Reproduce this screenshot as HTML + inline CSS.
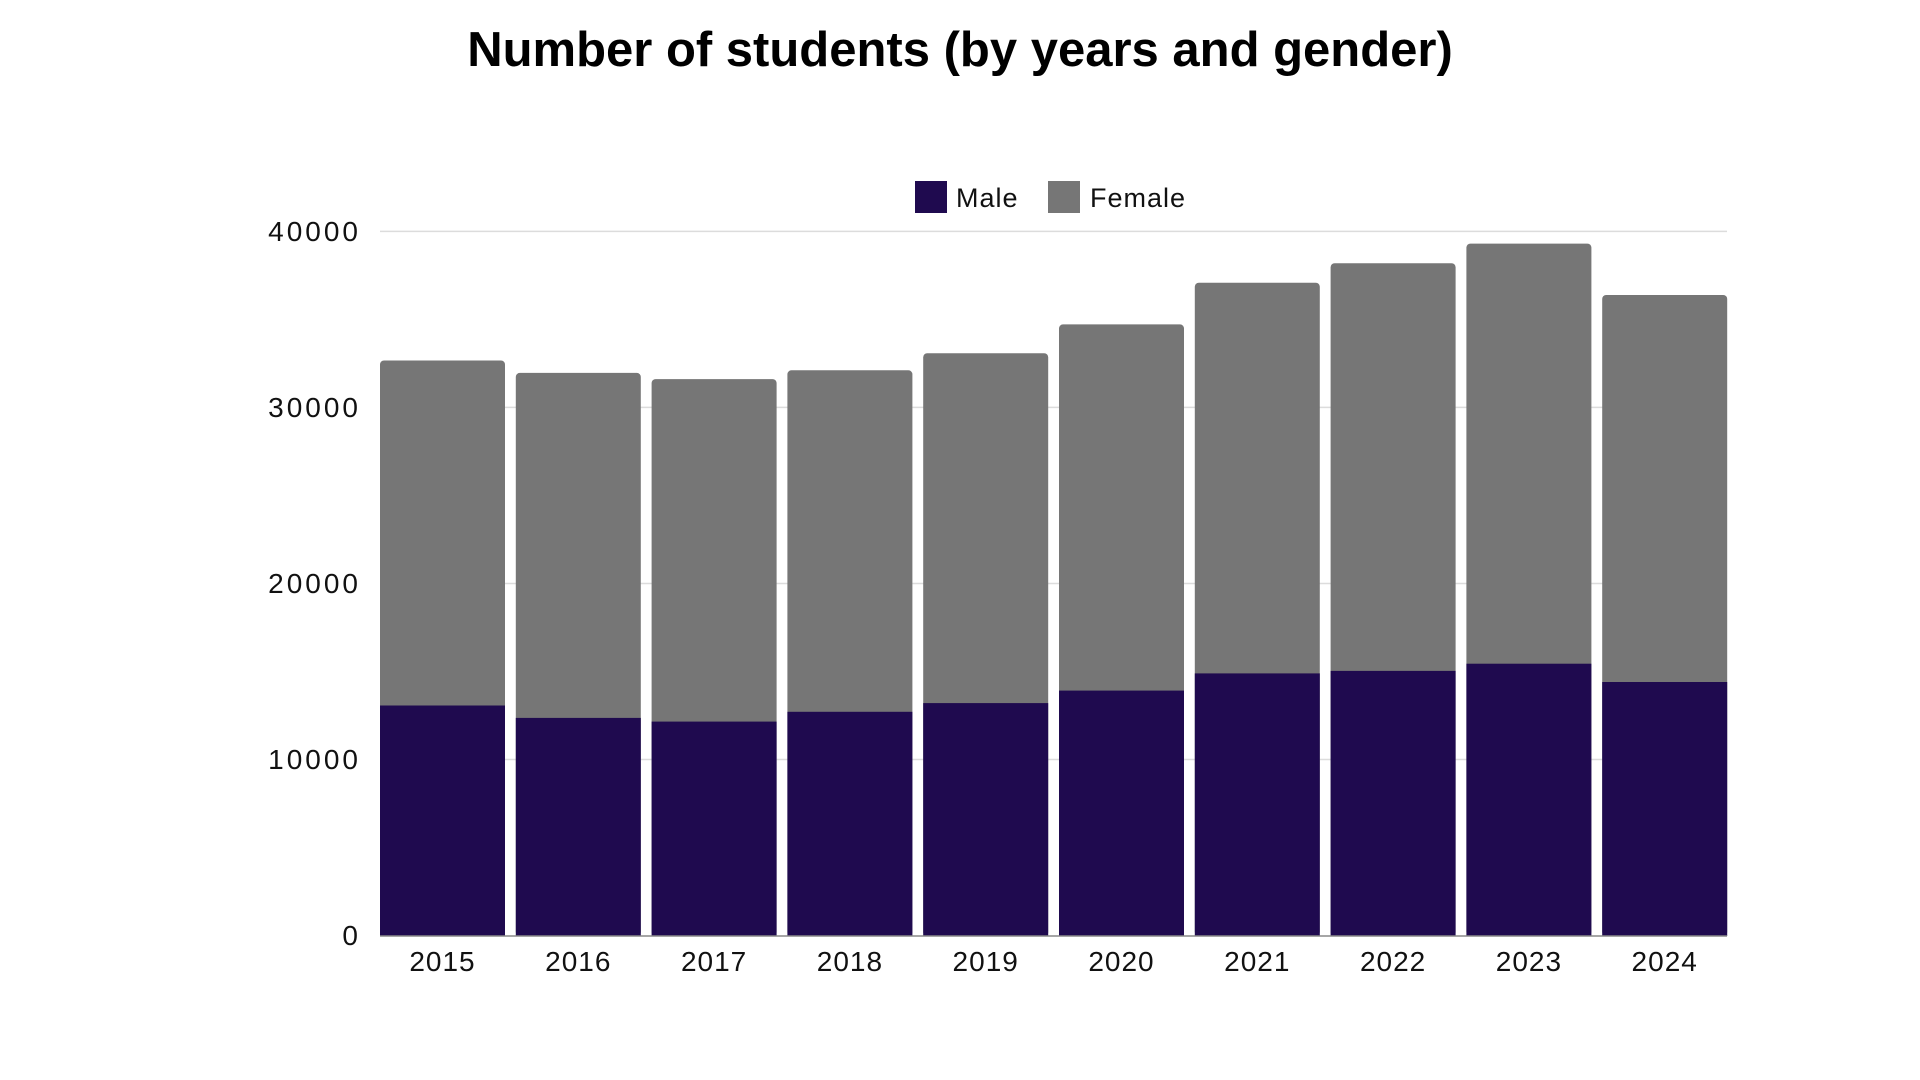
<!DOCTYPE html>
<html><head><meta charset="utf-8"><style>
html,body{margin:0;padding:0;background:#fff;}
svg{display:block;}
text{font-family:"Liberation Sans",sans-serif;}
</style></head><body>
<svg width="1920" height="1080" viewBox="0 0 1920 1080" xmlns="http://www.w3.org/2000/svg">
<rect width="1920" height="1080" fill="#fff"/>
<text x="960" y="66" text-anchor="middle" font-size="49" font-weight="bold" fill="#000">Number of students (by years and gender)</text>
<rect x="915" y="181" width="32" height="32" fill="#1f0a4f"/>
<text x="956" y="207" font-size="27" letter-spacing="1" fill="#111">Male</text>
<rect x="1048" y="181" width="32" height="32" fill="#767676"/>
<text x="1090" y="207" font-size="27" letter-spacing="1" fill="#111">Female</text>
<g stroke="#dcdcdc" stroke-width="1.5">
<line x1="380" y1="231.4" x2="1727" y2="231.4"/>
<line x1="380" y1="407.4" x2="1727" y2="407.4"/>
<line x1="380" y1="583.5" x2="1727" y2="583.5"/>
<line x1="380" y1="759.5" x2="1727" y2="759.5"/>
</g>
<g font-size="28" fill="#111" text-anchor="end" letter-spacing="3">
<text x="361" y="241">40000</text>
<text x="361" y="417">30000</text>
<text x="361" y="593">20000</text>
<text x="361" y="769">10000</text>
<text x="361" y="945">0</text>
</g>
<g font-size="28" fill="#111" text-anchor="middle" letter-spacing="1">
<text x="442.5" y="971">2015</text>
<text x="578.3" y="971">2016</text>
<text x="714.1" y="971">2017</text>
<text x="849.9" y="971">2018</text>
<text x="985.7" y="971">2019</text>
<text x="1121.5" y="971">2020</text>
<text x="1257.3" y="971">2021</text>
<text x="1393.1" y="971">2022</text>
<text x="1528.9" y="971">2023</text>
<text x="1664.7" y="971">2024</text>
</g>
<g>
<rect x="380" y="360.5" width="125" height="575" rx="4" fill="#767676"/><rect x="380" y="705.5" width="125" height="230.5" fill="#1f0a4f"/>
<rect x="515.8" y="372.9" width="125" height="563" rx="4" fill="#767676"/><rect x="515.8" y="717.9" width="125" height="218.1" fill="#1f0a4f"/>
<rect x="651.6" y="379.1" width="125" height="557" rx="4" fill="#767676"/><rect x="651.6" y="721.6" width="125" height="214.4" fill="#1f0a4f"/>
<rect x="787.4" y="370.3" width="125" height="566" rx="4" fill="#767676"/><rect x="787.4" y="711.8" width="125" height="224.2" fill="#1f0a4f"/>
<rect x="923.2" y="353.2" width="125" height="583" rx="4" fill="#767676"/><rect x="923.2" y="703.1" width="125" height="232.9" fill="#1f0a4f"/>
<rect x="1059" y="324.4" width="125" height="612" rx="4" fill="#767676"/><rect x="1059" y="690.6" width="125" height="245.4" fill="#1f0a4f"/>
<rect x="1194.8" y="282.7" width="125" height="653" rx="4" fill="#767676"/><rect x="1194.8" y="673.4" width="125" height="262.6" fill="#1f0a4f"/>
<rect x="1330.6" y="263.2" width="125" height="673" rx="4" fill="#767676"/><rect x="1330.6" y="670.9" width="125" height="265.1" fill="#1f0a4f"/>
<rect x="1466.4" y="243.6" width="125" height="692" rx="4" fill="#767676"/><rect x="1466.4" y="663.7" width="125" height="272.3" fill="#1f0a4f"/>
<rect x="1602.2" y="295.0" width="125" height="641" rx="4" fill="#767676"/><rect x="1602.2" y="682" width="125" height="254" fill="#1f0a4f"/>
</g>
<line x1="380" y1="936" x2="1727" y2="936" stroke="#888" stroke-width="1.5"/>
</svg>
</body></html>
